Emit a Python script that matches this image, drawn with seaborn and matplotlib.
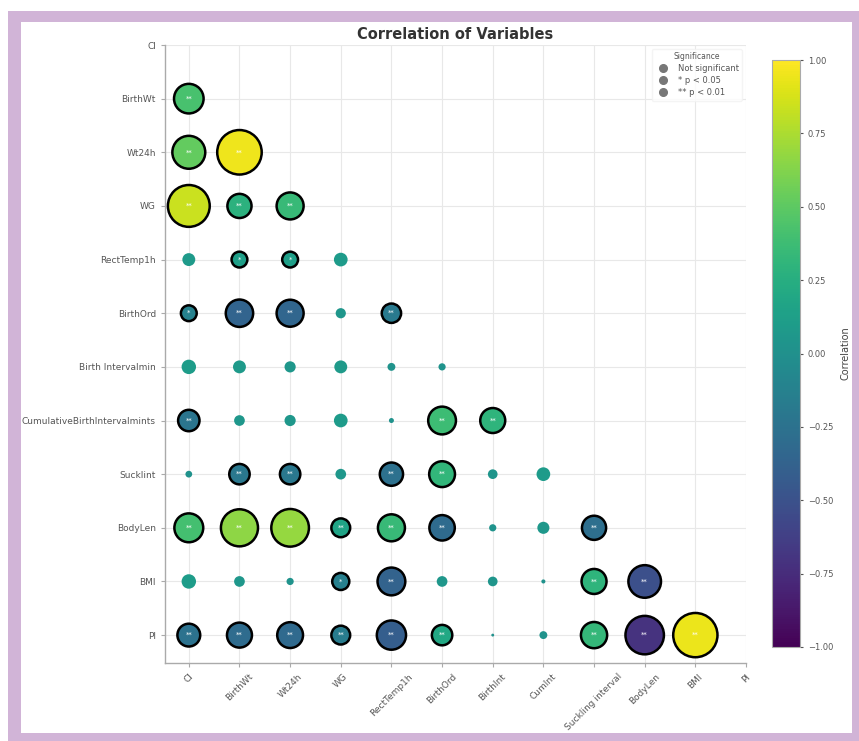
import numpy as np
import pandas as pd
import matplotlib
matplotlib.use("Agg")
import matplotlib.pyplot as plt
import seaborn as sns
from matplotlib.patches import Rectangle
from matplotlib.lines import Line2D
from matplotlib.cm import ScalarMappable
from matplotlib.colors import Normalize

row_labels = ["CI", "BirthWt", "Wt24h", "WG", "RectTemp1h", "BirthOrd",
              "Birth Intervalmin", "CumulativeBirthIntervalmints", "Sucklint",
              "BodyLen", "BMI", "PI"]
col_labels = ["CI", "BirthWt", "Wt24h", "WG", "RectTemp1h", "BirthOrd",
              "BirthInt", "CumInt", "Suckling interval", "BodyLen", "BMI", "PI"]

# Lower-triangle correlations: row i holds r(i, j) for j < i
corr_rows = [
    [],
    [0.42],
    [0.52, 0.95],
    [0.84, 0.28, 0.35],
    [0.08, 0.12, 0.12, 0.09],
    [-0.12, -0.36, -0.35, 0.05, -0.18],
    [0.10, 0.08, 0.06, 0.08, 0.03, 0.025],
    [-0.22, 0.055, 0.06, 0.09, 0.012, 0.37, 0.30],
    [0.022, -0.20, -0.20, 0.055, -0.26, 0.32, 0.045, 0.09],
    [0.40, 0.66, 0.68, 0.17, 0.35, -0.31, 0.025, 0.07, -0.28],
    [0.10, 0.055, 0.025, -0.14, -0.37, 0.055, 0.045, 0.008, 0.30, -0.51],
    [-0.25, -0.30, -0.32, -0.17, -0.41, 0.20, 0.004, 0.03, 0.33, -0.71, 0.94],
]
# Significance marks for the same cells
sig_rows = [
    [],
    ["**"],
    ["**", "**"],
    ["**", "**", "**"],
    ["", "*", "*", ""],
    ["*", "**", "**", "", "**"],
    ["", "", "", "", "", ""],
    ["**", "", "", "", "", "**", "**"],
    ["", "**", "**", "", "**", "**", "", ""],
    ["**", "**", "**", "**", "**", "**", "", "", "**"],
    ["", "", "", "*", "**", "", "", "", "**", "**"],
    ["**", "**", "**", "**", "**", "**", "", "", "**", "**", "**"],
]
legend_labels = ["Not significant", "* p < 0.05", "** p < 0.01"]

records = []
for i, (vals, sigs) in enumerate(zip(corr_rows, sig_rows)):
    for j, (r, s) in enumerate(zip(vals, sigs)):
        records.append({"x": j, "y": i, "r": r, "absr": abs(r), "sig": s})
df = pd.DataFrame(records)

sns.set_style("whitegrid")
plt.rcParams["font.family"] = ["DejaVu Sans"]

fig = plt.figure(figsize=(8.59, 7.41), dpi=100)
fig.patch.set_facecolor("white")

# Lilac frame around the figure
fig.add_artist(Rectangle((8 / 859, 0), 851 / 859, 730 / 741, transform=fig.transFigure,
                         facecolor="#d1b4d7", edgecolor="none", zorder=-10))
fig.add_artist(Rectangle((21 / 859, 8 / 741), 831 / 859, 711 / 741, transform=fig.transFigure,
                         facecolor="white", edgecolor="none", zorder=-9))

ax = fig.add_axes([165 / 859, 78 / 741, 581 / 859, 618 / 741])

common = dict(x="x", y="y", hue="r", size="absr", palette="viridis",
              hue_norm=(-1, 1), sizes=(0, 1080), size_norm=(0, 1),
              legend=False, ax=ax, zorder=3)
sns.scatterplot(data=df[df["sig"] == ""], edgecolor="none", linewidth=0, **common)
sns.scatterplot(data=df[df["sig"] != ""], edgecolor="black", linewidth=1.8, **common)

for _, row in df[df["sig"] != ""].iterrows():
    ax.text(row["x"], row["y"], row["sig"], ha="center", va="center",
            color="white", fontsize=5, zorder=4)

ax.set_xlim(-0.47, 11)
ax.set_ylim(11.52, 0)
ax.set_xticks(range(len(col_labels)))
ax.set_xticklabels(col_labels, rotation=45, fontsize=6.5, color="#555555")
ax.set_yticks(range(len(row_labels)))
ax.set_yticklabels(row_labels, fontsize=6.5, color="#555555")
ax.set_xlabel("")
ax.set_ylabel("")
ax.tick_params(bottom=True, left=True, length=3, width=0.8, color="#aaaaaa")
ax.grid(color="#e8e8e8", linewidth=0.8)
ax.set_axisbelow(True)
sns.despine(ax=ax)
for side in ("left", "bottom"):
    ax.spines[side].set_color("#aaaaaa")
    ax.spines[side].set_linewidth(1.0)

ax.set_title("Correlation of Variables", fontsize=10.5, fontweight="bold",
             color="#333333", pad=4)

handles = [Line2D([], [], marker="o", linestyle="", color="#777777",
                  markersize=5.5, label=lab) for lab in legend_labels]
leg = ax.legend(handles=handles, title="Significance", loc="upper right",
                fontsize=6, title_fontsize=5.5, frameon=True, edgecolor="#f2f2f2",
                borderaxespad=0.5, handletextpad=0.7, labelspacing=0.35)
for t in leg.get_texts():
    t.set_color("#555555")
leg.get_title().set_color("#555555")

cax = fig.add_axes([772 / 859, 94 / 741, 28 / 859, 587 / 741])
sm = ScalarMappable(norm=Normalize(-1, 1), cmap="viridis")
cb = fig.colorbar(sm, cax=cax)
cb.set_ticks(np.linspace(-1, 1, 9))
cb.ax.set_yticklabels([f"{v:.2f}".replace("-", "\u2212") for v in np.linspace(-1, 1, 9)])
cb.ax.tick_params(labelsize=6, length=2, colors="#555555")
cb.outline.set_edgecolor("#aaaaaa")
cb.set_label("Correlation", fontsize=7, color="#444444", labelpad=5)

fig.savefig("out.png", dpi=100)
